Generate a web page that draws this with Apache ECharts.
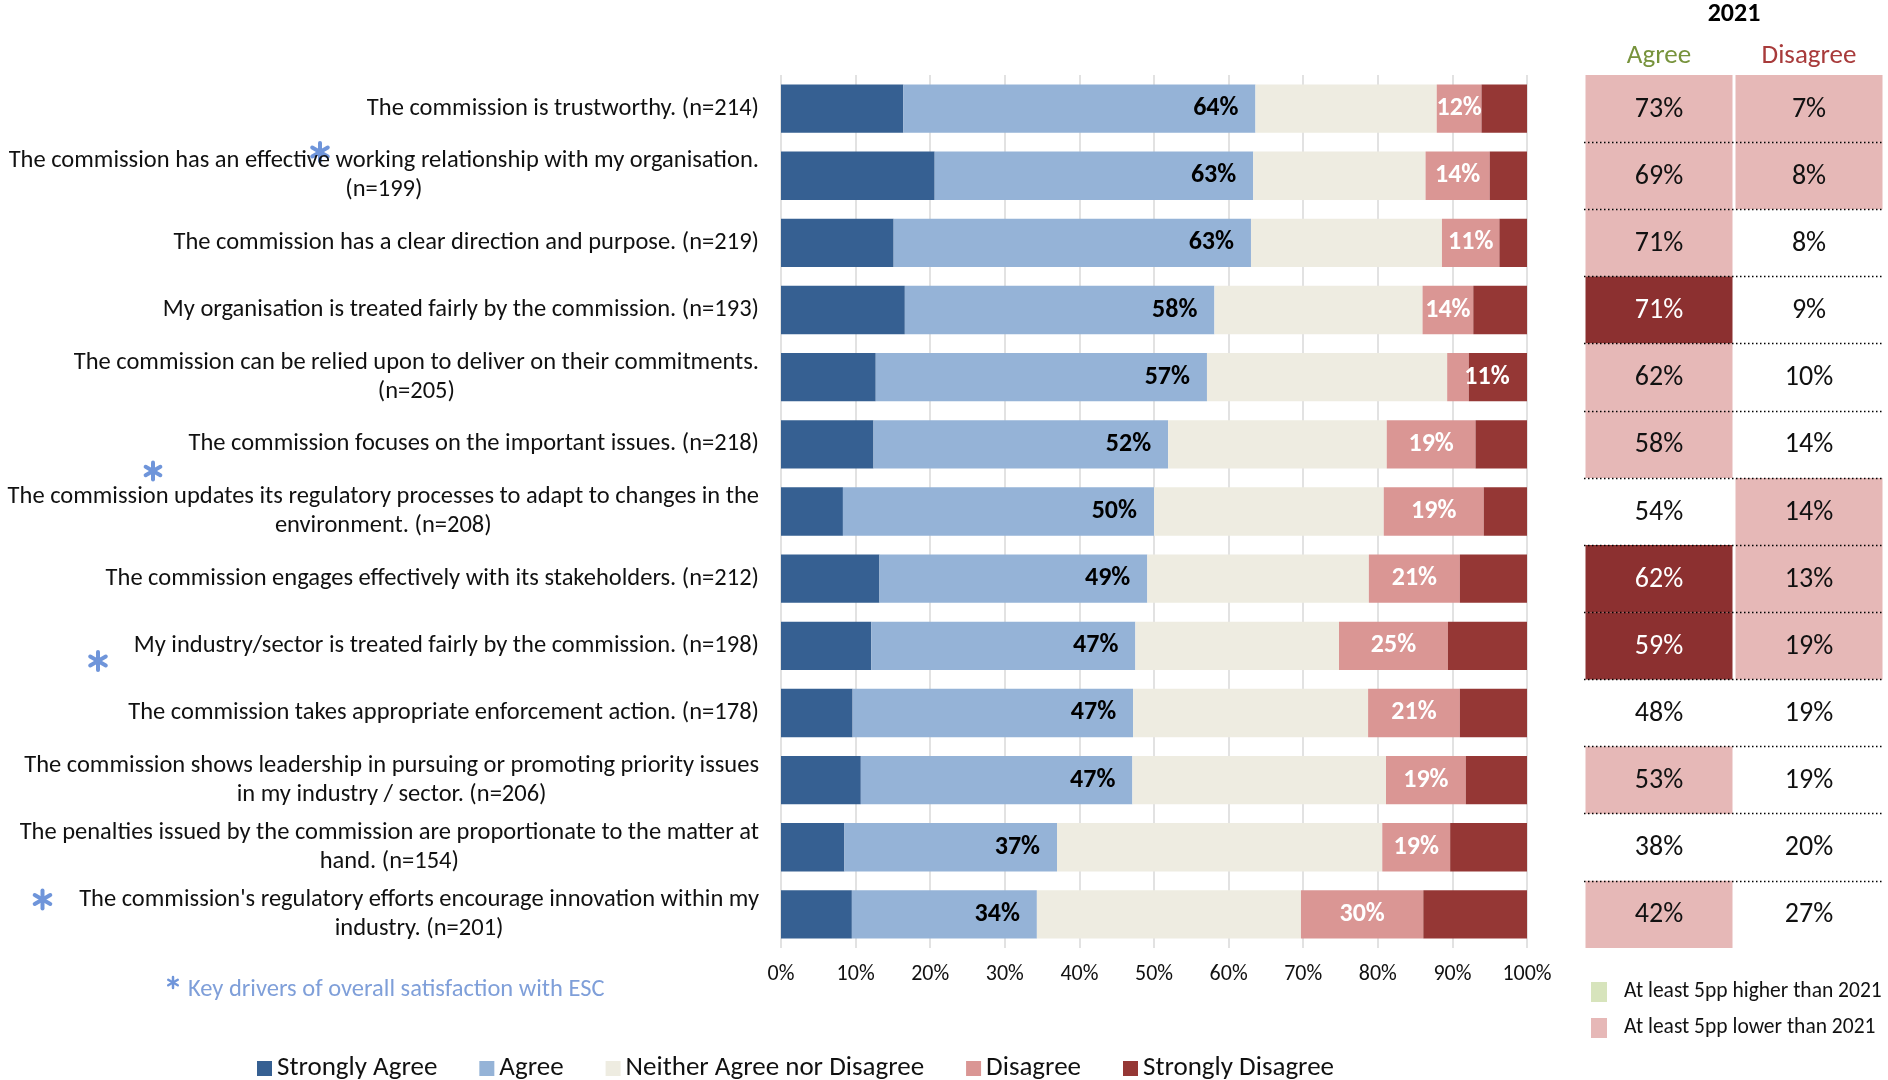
<!DOCTYPE html>
<html>
<head>
<meta charset="utf-8">
<script src="https://cdn.jsdelivr.net/npm/echarts@6/dist/echarts.min.js"></script>
<style>
  html, body { margin: 0; padding: 0; background: #fff; }
  #chart { width: 1888px; height: 1080px; }
</style>
</head>
<body>
<div id="chart"></div>
<script>
const FONT = 'Carlito, Lato, sans-serif';

const statements = [
  'The commission is trustworthy. (n=214)',
  'The commission has an effective working relationship with my organisation.\n(n=199)',
  'The commission has a clear direction and purpose. (n=219)',
  'My organisation is treated fairly by the commission. (n=193)',
  'The commission can be relied upon to deliver on their commitments.\n(n=205)',
  'The commission focuses on the important issues. (n=218)',
  'The commission updates its regulatory processes to adapt to changes in the\nenvironment. (n=208)',
  'The commission engages effectively with its stakeholders. (n=212)',
  'My industry/sector is treated fairly by the commission. (n=198)',
  'The commission takes appropriate enforcement action. (n=178)',
  'The commission shows leadership in pursuing or promoting priority issues\nin my industry / sector. (n=206)',
  'The penalties issued by the commission are proportionate to the matter at\nhand. (n=154)',
  "The commission's regulatory efforts encourage innovation within my\nindustry. (n=201)"
];

const stronglyAgree = [16.4, 20.6, 15.1, 16.6, 12.7, 12.4, 8.3, 13.2, 12.1, 9.6, 10.7, 8.5, 9.5];
const agree = [47.2, 42.7, 47.9, 41.5, 44.4, 39.5, 41.7, 35.9, 35.4, 37.6, 36.4, 28.5, 24.8];
const neither = [24.3, 23.1, 25.6, 27.9, 32.2, 29.3, 30.8, 29.7, 27.3, 31.5, 34.0, 43.6, 35.4];
const disagree = [6.0, 8.6, 7.7, 6.8, 2.9, 11.9, 13.4, 12.2, 14.6, 12.3, 10.7, 9.1, 16.4];
const stronglyDisagree = [6.1, 5.0, 3.7, 7.2, 7.8, 6.9, 5.8, 9.0, 10.6, 9.0, 8.2, 10.3, 13.9];

const agreeTotal = [64, 63, 63, 58, 57, 52, 50, 49, 47, 47, 47, 37, 34];
const disagreeTotal = [12, 14, 11, 14, 11, 19, 19, 21, 25, 21, 19, 19, 30];

const tableColumns = ['Agree', 'Disagree'];
const agree2021 = [73, 69, 71, 71, 62, 58, 54, 62, 59, 48, 53, 38, 42];
const disagree2021 = [7, 8, 8, 9, 10, 14, 14, 13, 19, 19, 19, 20, 27];
// 0 = no change, 1 = at least 5pp lower, 2 = dark highlight
const agreeFlag = [1, 1, 1, 2, 1, 1, 0, 2, 2, 0, 1, 0, 1];
const disagreeFlag = [1, 1, 0, 0, 0, 0, 1, 1, 1, 0, 0, 0, 0];

const colors = {
  sa: '#366092', a: '#95b3d7', n: '#eeece1', d: '#da9694', sd: '#953735',
  higher: '#d7e4bc', lower: '#e6b8b7', dark: '#8c3030', star: '#6f95da'
};

const chart = echarts.init(document.getElementById('chart'));

const tableData = [];
agree2021.forEach((v, i) => tableData.push([0, i, v, agreeFlag[i]]));
disagree2021.forEach((v, i) => tableData.push([1, i, v, disagreeFlag[i]]));
const flagFill = ['rgba(0,0,0,0)', colors.lower, colors.dark];

function stackSeries(name, data, color, label) {
  return {
    name, type: 'bar', stack: 'total', data, barCategoryGap: '28%',
    itemStyle: { color }, label: label || { show: false },
    emphasis: { disabled: true }, xAxisIndex: 0, yAxisIndex: 0
  };
}

// six-spoke asterisk drawn as three strokes
function asterisk(cx, cy, r, w) {
  return {
    type: 'group', x: cx, y: cy,
    children: [90, 30, 150].map((deg) => {
      const a = deg * Math.PI / 180;
      return {
        type: 'line',
        shape: { x1: -r * Math.cos(a), y1: -r * Math.sin(a), x2: r * Math.cos(a), y2: r * Math.sin(a) },
        style: { stroke: colors.star, lineWidth: w, lineCap: 'round' }
      };
    })
  };
}

chart.setOption({
  animation: false,
  textStyle: { fontFamily: FONT },
  grid: [
    { left: 781, right: 361, top: 75, bottom: 132, outerBoundsMode: 'none' },
    { left: 1584, right: 4, top: 75, bottom: 132, outerBoundsMode: 'none' }
  ],
  xAxis: [
    {
      type: 'value', gridIndex: 0, min: 0, max: 100, interval: 10,
      axisLine: { show: false }, axisTick: { show: false },
      splitLine: { show: true, lineStyle: { color: '#d9d9d9', width: 1.5 } },
      axisLabel: { formatter: '{value}%', fontSize: 22, color: '#111', margin: 15, fontFamily: FONT }
    },
    {
      type: 'category', gridIndex: 1, position: 'top', data: [
        { value: tableColumns[0], textStyle: { color: '#77933c' } },
        { value: tableColumns[1], textStyle: { color: '#a83b3b' } }
      ],
      name: '2021', nameLocation: 'middle', nameGap: 48,
      nameTextStyle: { fontSize: 26, fontWeight: 'bold', color: '#000', fontFamily: FONT },
      axisLine: { show: false }, axisTick: { show: false }, splitLine: { show: false },
      axisLabel: { fontSize: 27, margin: 5, fontFamily: FONT }
    }
  ],
  yAxis: [
    {
      type: 'category', gridIndex: 0, inverse: true, data: statements,
      axisLine: { show: false }, axisTick: { show: false },
      axisLabel: {
        margin: 22, align: 'right',
        formatter: (v) => v.split('\n').map((l) => '{c|' + l + '}').join('\n'),
        rich: { c: { align: 'center', fontSize: 24.5, lineHeight: 29, color: '#111', fontFamily: FONT } }
      }
    },
    {
      type: 'category', gridIndex: 1, inverse: true, data: statements, z: 10,
      axisLine: { show: false }, axisTick: { show: false }, axisLabel: { show: false },
      splitLine: {
        show: true, showMinLine: false, showMaxLine: false,
        lineStyle: { color: '#000', type: [1.5, 2.5], width: 1.3 }
      }
    }
  ],
  legend: [
    {
      data: ['Strongly Agree', 'Agree', 'Neither Agree nor Disagree', 'Disagree', 'Strongly Disagree'],
      left: 252, top: 1050, itemWidth: 15, itemHeight: 15, itemGap: 42, icon: 'rect',
      textStyle: { fontSize: 27, color: '#111', fontFamily: FONT }
    },
    {
      data: ['At least 5pp higher than 2021', 'At least 5pp lower than 2021'],
      orient: 'vertical', left: 1586, top: 976, itemWidth: 16, itemHeight: 20, itemGap: 14, icon: 'rect',
      textStyle: { fontSize: 21.5, color: '#111', padding: [0, 0, 0, 12], fontFamily: FONT }
    }
  ],
  graphic: [
    asterisk(320, 152, 9, 4),
    asterisk(153, 471, 8.5, 4),
    asterisk(98, 661, 9, 4),
    asterisk(42.5, 899.5, 9, 4),
    asterisk(173, 982.5, 5.5, 2.5),
    {
      type: 'text', x: 188, y: 990,
      style: { text: 'Key drivers of overall satisfaction with ESC', fill: '#7f9fd9', font: '24.5px ' + FONT, verticalAlign: 'middle' }
    }
  ],
  series: [
    stackSeries('Strongly Agree', stronglyAgree, colors.sa),
    stackSeries('Agree', agree, colors.a, {
      show: true, position: 'insideRight', distance: 17,
      formatter: (p) => agreeTotal[p.dataIndex] + '%',
      fontSize: 26, fontWeight: 'bold', color: '#000', fontFamily: FONT
    }),
    stackSeries('Neither Agree nor Disagree', neither, colors.n),
    stackSeries('Disagree', disagree.map((v) => (v < 5 ? { value: v, label: { offset: [29, 0] } } : v)), colors.d, {
      show: true, position: 'inside',
      formatter: (p) => disagreeTotal[p.dataIndex] + '%',
      fontSize: 26, fontWeight: 'bold', color: '#fff', fontFamily: FONT
    }),
    stackSeries('Strongly Disagree', stronglyDisagree, colors.sd),
    {
      name: 'table', type: 'custom', xAxisIndex: 1, yAxisIndex: 1, data: tableData,
      encode: { x: 0, y: 1 }, silent: true,
      renderItem: (params, api) => {
        const c = api.coord([api.value(0), api.value(1)]);
        const s = api.size([1, 1]);
        const flag = api.value(3);
        return {
          type: 'group', children: [
            { type: 'rect', shape: { x: c[0] - s[0] / 2 + 1.5, y: c[1] - s[1] / 2, width: s[0] - 3, height: s[1] },
              style: { fill: flagFill[flag] } },
            { type: 'text', style: { text: api.value(2) + '%', x: c[0], y: c[1] + 1, align: 'center', verticalAlign: 'middle',
              fill: flag === 2 ? '#fff' : '#111', font: '28px ' + FONT } }
          ]
        };
      }
    },
    { name: 'At least 5pp higher than 2021', type: 'bar', xAxisIndex: 1, yAxisIndex: 1, data: [], itemStyle: { color: colors.higher } },
    { name: 'At least 5pp lower than 2021', type: 'bar', xAxisIndex: 1, yAxisIndex: 1, data: [], itemStyle: { color: colors.lower } }
  ]
});
</script>
</body>
</html>
